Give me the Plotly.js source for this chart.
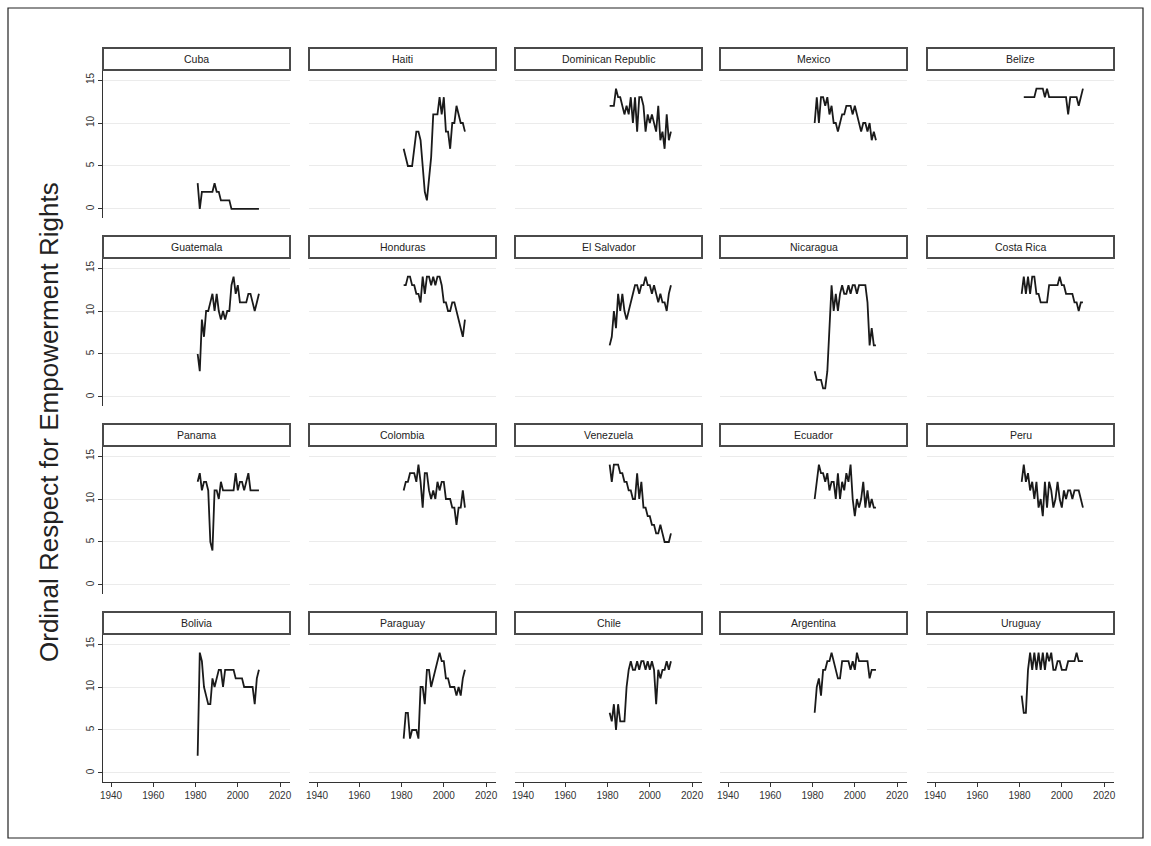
<!DOCTYPE html>
<html>
<head>
<meta charset="utf-8">
<script src="https://cdn.plot.ly/plotly-3.0.1.min.js"></script>
<style>
html,body{margin:0;padding:0;background:#fff;}
#chart{width:1151px;height:846px;}
</style>
</head>
<body>
<div id="chart"></div>
<script>
const years = [1981,1982,1983,1984,1985,1986,1987,1988,1989,1990,1991,1992,1993,1994,1995,1996,1997,1998,1999,2000,2001,2002,2003,2004,2005,2006,2007,2008,2009,2010];

const countries = ['Cuba','Haiti','Dominican Republic','Mexico','Belize',
  'Guatemala','Honduras','El Salvador','Nicaragua','Costa Rica',
  'Panama','Colombia','Venezuela','Ecuador','Peru',
  'Bolivia','Paraguay','Chile','Argentina','Uruguay'];

const cuba      = [3,0,2,2,2,2,2,2,3,2,2,1,1,1,1,1,0,0,0,0,0,0,0,0,0,0,0,0,0,0];
const haiti     = [7,6,5,5,5,7,9,9,8,5,2,1,4,6,11,11,11,13,11,13,9,9,7,10,10,12,11,10,10,9];
const dominican = [12,12,12,14,13,13,12,11,12,11,13,10,13,9,13,13,12,9,11,10,11,10,9,12,8,9,7,11,8,9];
const mexico    = [10,13,10,13,13,12,13,11,12,10,10,9,10,11,11,12,12,12,11,12,11,10,9,10,10,9,10,8,9,8];
const belize    = [null,13,13,13,13,13,13,14,14,14,14,13,14,13,13,13,13,13,13,13,13,13,11,13,13,13,13,12,13,14];
const guatemala = [5,3,9,7,10,10,11,12,10,12,10,9,10,9,10,10,13,14,12,13,11,11,11,11,12,12,11,10,11,12];
const honduras  = [13,13,14,14,13,13,12,12,11,14,12,14,14,13,14,13,14,14,13,11,11,10,10,11,11,10,9,8,7,9];
const elsalvador= [6,7,10,8,12,10,12,10,9,10,11,12,13,13,12,13,13,14,13,13,12,13,12,11,12,11,11,10,12,13];
const nicaragua = [3,2,2,2,1,1,3,8,13,10,12,10,12,13,12,12,13,12,13,13,12,13,13,13,13,11,6,8,6,6];
const costarica = [12,14,12,14,12,14,14,12,12,11,11,11,11,13,13,13,13,13,14,13,13,12,12,12,12,11,11,10,11,11];
const panama    = [12,13,11,12,12,11,5,4,11,11,10,12,11,11,11,11,11,11,13,11,12,12,11,12,13,11,11,11,11,11];
const colombia  = [11,12,12,13,13,13,12,14,12,9,13,13,11,10,11,10,12,11,12,12,10,10,10,9,9,7,9,9,11,9];
const venezuela = [14,12,14,14,14,13,13,12,12,11,11,10,10,13,10,12,9,9,8,8,7,7,6,6,7,6,5,5,5,6];
const ecuador   = [10,12,14,13,13,12,13,11,12,12,10,13,10,12,11,13,12,14,10,8,10,9,10,12,9,11,9,10,9,9];
const peru      = [12,14,12,13,11,12,10,12,9,10,8,12,9,12,11,9,10,12,10,9,11,10,11,11,10,11,11,11,10,9];
const bolivia   = [2,14,13,10,9,8,8,11,10,11,12,12,10,12,12,12,12,12,11,11,11,11,10,10,10,10,10,8,11,12];
const paraguay  = [4,7,7,4,5,5,5,4,10,10,8,12,12,10,11,12,13,14,13,13,11,11,10,10,10,9,10,9,11,12];
const chile     = [7,6,8,5,8,6,6,6,10,12,13,12,12,13,12,13,13,12,13,12,13,12,8,12,11,12,12,13,12,13];
const argentina = [7,10,11,9,12,12,13,13,14,13,12,11,11,13,13,13,13,12,13,12,14,13,13,13,13,13,11,12,12,12];
const uruguay   = [9,7,7,12,14,12,14,12,14,12,14,12,14,13,14,12,12,13,13,12,12,12,13,13,13,13,14,13,13,13];

const series = [cuba,haiti,dominican,mexico,belize,guatemala,honduras,elsalvador,nicaragua,costarica,
  panama,colombia,venezuela,ecuador,peru,bolivia,paraguay,chile,argentina,uruguay];

const yTicks = [0,5,10,15];
const xTicks = [1940,1960,1980,2000,2020];
const yTitle = 'Ordinal Respect for Empowerment Rights';

const W = 1151, H = 846;
const colLeft = [103,309,515,720,927];
const colW = 187;
const rowPitch = 188;
const plotTop0 = 71, plotBot0 = 218;
const stripTop0 = 48, stripBot0 = 70;
const FONT = 'Liberation Sans, Arial, sans-serif';

const px = v => v / W;
const py = v => 1 - v / H;

const data = [];
const layout = {
  width: W, height: H,
  margin: {l:0,r:0,t:0,b:0},
  paper_bgcolor: '#ffffff',
  plot_bgcolor: '#ffffff',
  showlegend: false,
  font: {family: FONT, color: '#333'},
  shapes: [],
  annotations: []
};

series.forEach((vals, i) => {
  const r = Math.floor(i / 5), c = i % 5;
  const n = i + 1;
  const xa = n === 1 ? 'xaxis' : 'xaxis' + n;
  const ya = n === 1 ? 'yaxis' : 'yaxis' + n;
  const xr = n === 1 ? 'x' : 'x' + n;
  const yr = n === 1 ? 'y' : 'y' + n;
  const L = colLeft[c], R = L + colW;
  const T = plotTop0 + r * rowPitch, B = plotBot0 + r * rowPitch;

  data.push({
    type: 'scatter', mode: 'lines',
    x: years, y: vals,
    xaxis: xr, yaxis: yr,
    line: {color: '#1a1a1a', width: 1.8},
    connectgaps: false,
    hoverinfo: 'skip'
  });

  const bottom = r === 3, left = c === 0;
  layout[xa] = {
    domain: [px(L), px(R)],
    anchor: yr,
    range: [1936.2, 2024.7],
    tickvals: xTicks,
    ticktext: xTicks.map(String),
    showticklabels: bottom,
    ticks: bottom ? 'outside' : '',
    ticklen: 4, tickwidth: 1, tickcolor: '#333',
    showline: bottom, linecolor: '#333', linewidth: 1.2,
    showgrid: false, zeroline: false,
    tickfont: {size: 10, color: '#333', family: FONT},
    fixedrange: true
  };
  layout[ya] = {
    domain: [py(B), py(T)],
    anchor: xr,
    range: [-1.05, 16.05],
    tickvals: yTicks,
    ticktext: yTicks.map(String),
    showticklabels: left,
    ticks: left ? 'outside' : '',
    ticklen: 4, tickwidth: 1, tickcolor: '#333',
    tickangle: -90,
    showline: left, linecolor: '#333', linewidth: 1.2,
    showgrid: true, gridcolor: '#ebebeb', gridwidth: 1,
    zeroline: false,
    tickfont: {size: 10, color: '#333', family: FONT},
    fixedrange: true
  };

  const sT = stripTop0 + r * rowPitch, sB = stripBot0 + r * rowPitch;
  layout.shapes.push({
    type: 'rect', xref: 'paper', yref: 'paper',
    x0: px(L), x1: px(R), y0: py(sB), y1: py(sT),
    line: {color: '#4a4a4a', width: 2},
    fillcolor: '#ffffff', layer: 'above'
  });
  layout.annotations.push({
    xref: 'paper', yref: 'paper',
    x: px((L + R) / 2), y: py((sT + sB) / 2),
    xanchor: 'center', yanchor: 'middle',
    text: countries[i], showarrow: false,
    font: {size: 10.5, color: '#222', family: FONT}
  });
});

// outer frame
layout.shapes.push({
  type: 'rect', xref: 'paper', yref: 'paper',
  x0: px(8), x1: px(1143), y0: py(838), y1: py(8),
  line: {color: '#222', width: 1.2}, fillcolor: 'rgba(0,0,0,0)', layer: 'below'
});

layout.annotations.push({
  xref: 'paper', yref: 'paper',
  x: px(49), y: py(422),
  xanchor: 'center', yanchor: 'middle',
  text: yTitle, showarrow: false, textangle: -90,
  font: {size: 26, color: '#222', family: FONT}
});

Plotly.newPlot('chart', data, layout, {displayModeBar: false, staticPlot: true});
</script>
</body>
</html>
